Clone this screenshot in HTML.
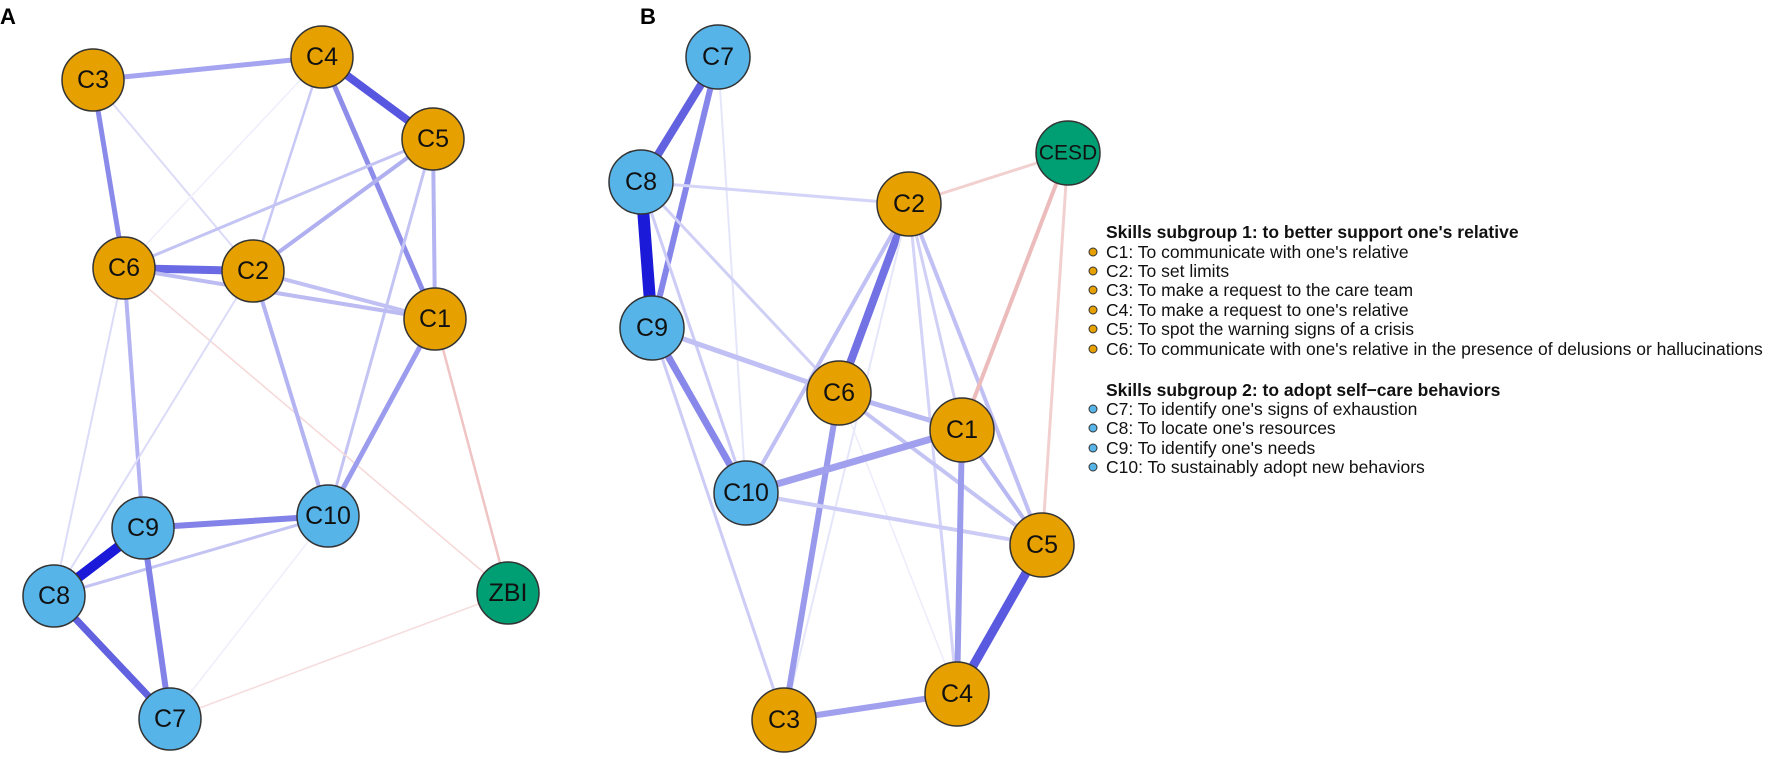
<!DOCTYPE html>
<html><head><meta charset="utf-8"><style>
body{margin:0;background:#fff;}
svg{display:block;}
text{font-family:"Liberation Sans",Arial,sans-serif;}
</style></head><body>
<svg width="1772" height="759" viewBox="0 0 1772 759" xmlns="http://www.w3.org/2000/svg">
<g stroke-linecap="butt" fill="none">
<line x1="93" y1="80" x2="322" y2="57" stroke="#a4a4f0" stroke-width="5"/>
<line x1="322" y1="57" x2="433" y2="139" stroke="#5656e0" stroke-width="8"/>
<line x1="93" y1="80" x2="124" y2="268" stroke="#8a8aea" stroke-width="5"/>
<line x1="93" y1="80" x2="253" y2="271" stroke="#dcdcf8" stroke-width="2"/>
<line x1="322" y1="57" x2="124" y2="268" stroke="#eeeefc" stroke-width="1.5"/>
<line x1="322" y1="57" x2="253" y2="271" stroke="#c8c8f6" stroke-width="2.5"/>
<line x1="322" y1="57" x2="435" y2="319" stroke="#8e8eea" stroke-width="5"/>
<line x1="433" y1="139" x2="124" y2="268" stroke="#c4c4f4" stroke-width="3"/>
<line x1="433" y1="139" x2="253" y2="271" stroke="#b0b0f0" stroke-width="4"/>
<line x1="433" y1="139" x2="435" y2="319" stroke="#b4b4f2" stroke-width="4"/>
<line x1="433" y1="139" x2="328" y2="516" stroke="#c4c4f4" stroke-width="3"/>
<line x1="124" y1="268" x2="253" y2="271" stroke="#6a6ae4" stroke-width="8"/>
<line x1="124" y1="268" x2="435" y2="319" stroke="#bcbcf2" stroke-width="4"/>
<line x1="253" y1="271" x2="435" y2="319" stroke="#c0c0f4" stroke-width="4"/>
<line x1="124" y1="268" x2="143" y2="528" stroke="#b4b4f2" stroke-width="4"/>
<line x1="124" y1="268" x2="54" y2="596" stroke="#dcdcf8" stroke-width="2"/>
<line x1="124" y1="268" x2="508" y2="593" stroke="#f6d8d8" stroke-width="1.5"/>
<line x1="253" y1="271" x2="328" y2="516" stroke="#b4b4f2" stroke-width="4"/>
<line x1="253" y1="271" x2="54" y2="596" stroke="#dcdcf8" stroke-width="2"/>
<line x1="435" y1="319" x2="328" y2="516" stroke="#9c9cee" stroke-width="5"/>
<line x1="435" y1="319" x2="508" y2="593" stroke="#f0c4c4" stroke-width="2.5"/>
<line x1="143" y1="528" x2="328" y2="516" stroke="#8282e8" stroke-width="6"/>
<line x1="54" y1="596" x2="328" y2="516" stroke="#c4c4f4" stroke-width="3"/>
<line x1="143" y1="528" x2="54" y2="596" stroke="#1a1ad8" stroke-width="10"/>
<line x1="143" y1="528" x2="170" y2="719" stroke="#8282e8" stroke-width="6"/>
<line x1="54" y1="596" x2="170" y2="719" stroke="#6262e0" stroke-width="7"/>
<line x1="328" y1="516" x2="170" y2="719" stroke="#eeeefc" stroke-width="1.5"/>
<line x1="170" y1="719" x2="508" y2="593" stroke="#f6dcdc" stroke-width="1.5"/>
<line x1="718" y1="57" x2="641" y2="182" stroke="#6262e0" stroke-width="8"/>
<line x1="718" y1="57" x2="652" y2="328" stroke="#8686ea" stroke-width="6"/>
<line x1="641" y1="182" x2="652" y2="328" stroke="#1a1ad8" stroke-width="12"/>
<line x1="718" y1="57" x2="746" y2="493" stroke="#e6e6fa" stroke-width="2"/>
<line x1="641" y1="182" x2="909" y2="204" stroke="#d4d4f8" stroke-width="3"/>
<line x1="641" y1="182" x2="839" y2="393" stroke="#d0d0f6" stroke-width="3"/>
<line x1="641" y1="182" x2="746" y2="493" stroke="#ccccf6" stroke-width="3"/>
<line x1="652" y1="328" x2="784" y2="720" stroke="#ccccf6" stroke-width="3"/>
<line x1="652" y1="328" x2="839" y2="393" stroke="#c0c0f4" stroke-width="5"/>
<line x1="652" y1="328" x2="746" y2="493" stroke="#8888ea" stroke-width="7"/>
<line x1="909" y1="204" x2="839" y2="393" stroke="#7272e4" stroke-width="8"/>
<line x1="909" y1="204" x2="746" y2="493" stroke="#c0c0f4" stroke-width="4"/>
<line x1="909" y1="204" x2="962" y2="430" stroke="#d0d0f6" stroke-width="3"/>
<line x1="909" y1="204" x2="1042" y2="545" stroke="#c0c0f4" stroke-width="4"/>
<line x1="909" y1="204" x2="957" y2="694" stroke="#d4d4f8" stroke-width="3"/>
<line x1="909" y1="204" x2="784" y2="720" stroke="#e6e6fa" stroke-width="2"/>
<line x1="909" y1="204" x2="1068" y2="153" stroke="#f2d0d0" stroke-width="3"/>
<line x1="1068" y1="153" x2="962" y2="430" stroke="#ecbcbc" stroke-width="4"/>
<line x1="1068" y1="153" x2="1042" y2="545" stroke="#f2d0d0" stroke-width="3"/>
<line x1="839" y1="393" x2="962" y2="430" stroke="#b8b8f2" stroke-width="5"/>
<line x1="839" y1="393" x2="1042" y2="545" stroke="#c4c4f4" stroke-width="4"/>
<line x1="839" y1="393" x2="784" y2="720" stroke="#9a9aec" stroke-width="6"/>
<line x1="839" y1="393" x2="957" y2="694" stroke="#ececfc" stroke-width="1.5"/>
<line x1="746" y1="493" x2="962" y2="430" stroke="#a0a0ee" stroke-width="7"/>
<line x1="746" y1="493" x2="1042" y2="545" stroke="#ccccf6" stroke-width="4"/>
<line x1="962" y1="430" x2="957" y2="694" stroke="#9c9cec" stroke-width="6"/>
<line x1="962" y1="430" x2="1042" y2="545" stroke="#b8b8f2" stroke-width="4"/>
<line x1="1042" y1="545" x2="957" y2="694" stroke="#5a5ae0" stroke-width="9"/>
<line x1="784" y1="720" x2="957" y2="694" stroke="#a0a0ee" stroke-width="6"/>
</g>
<g stroke="#333" stroke-width="1.5">
<circle cx="93" cy="80" r="31" fill="#e6a000"/>
<circle cx="322" cy="57" r="31" fill="#e6a000"/>
<circle cx="433" cy="139" r="31" fill="#e6a000"/>
<circle cx="124" cy="268" r="31" fill="#e6a000"/>
<circle cx="253" cy="271" r="31" fill="#e6a000"/>
<circle cx="435" cy="319" r="31" fill="#e6a000"/>
<circle cx="143" cy="528" r="31" fill="#56b4e9"/>
<circle cx="328" cy="516" r="31" fill="#56b4e9"/>
<circle cx="54" cy="596" r="31" fill="#56b4e9"/>
<circle cx="170" cy="719" r="31" fill="#56b4e9"/>
<circle cx="508" cy="593" r="31" fill="#009e73"/>
<circle cx="718" cy="57" r="32" fill="#56b4e9"/>
<circle cx="641" cy="182" r="32" fill="#56b4e9"/>
<circle cx="652" cy="328" r="32" fill="#56b4e9"/>
<circle cx="746" cy="493" r="32" fill="#56b4e9"/>
<circle cx="909" cy="204" r="32" fill="#e6a000"/>
<circle cx="839" cy="393" r="32" fill="#e6a000"/>
<circle cx="962" cy="430" r="32" fill="#e6a000"/>
<circle cx="1042" cy="545" r="32" fill="#e6a000"/>
<circle cx="957" cy="694" r="32" fill="#e6a000"/>
<circle cx="784" cy="720" r="32" fill="#e6a000"/>
<circle cx="1068" cy="153" r="32" fill="#009e73"/>
</g>
<g font-size="25" text-anchor="middle" fill="#111" dominant-baseline="central">
<text x="93" y="80">C3</text><text x="322" y="57">C4</text><text x="433" y="139">C5</text>
<text x="124" y="268">C6</text><text x="253" y="271">C2</text><text x="435" y="319">C1</text>
<text x="143" y="528">C9</text><text x="328" y="516">C10</text><text x="54" y="596">C8</text>
<text x="170" y="719">C7</text><text x="508" y="593">ZBI</text>
<text x="718" y="57">C7</text><text x="641" y="182">C8</text><text x="652" y="328">C9</text>
<text x="746" y="493">C10</text><text x="909" y="204">C2</text><text x="839" y="393">C6</text>
<text x="962" y="430">C1</text><text x="1042" y="545">C5</text><text x="957" y="694">C4</text>
<text x="784" y="720">C3</text><text x="1068" y="153" font-size="21">CESD</text>
</g>
<text x="0" y="24" font-size="22" font-weight="bold">A</text>
<text x="640" y="24" font-size="22" font-weight="bold">B</text>
<g font-size="17.5" fill="#111">
<text x="1106" y="238" font-weight="bold">Skills subgroup 1: to better support one's relative</text>
<text x="1106" y="258">C1: To communicate with one's relative</text>
<text x="1106" y="277">C2: To set limits</text>
<text x="1106" y="296">C3: To make a request to the care team</text>
<text x="1106" y="316">C4: To make a request to one's relative</text>
<text x="1106" y="335">C5: To spot the warning signs of a crisis</text>
<text x="1106" y="355">C6: To communicate with one's relative in the presence of delusions or hallucinations</text>
<text x="1106" y="396" font-weight="bold">Skills subgroup 2: to adopt self−care behaviors</text>
<text x="1106" y="415">C7: To identify one's signs of exhaustion</text>
<text x="1106" y="434">C8: To locate one's resources</text>
<text x="1106" y="454">C9: To identify one's needs</text>
<text x="1106" y="473">C10: To sustainably adopt new behaviors</text>
</g>
<g stroke="#333" stroke-width="1">
<circle cx="1093" cy="252" r="4" fill="#e6a000"/>
<circle cx="1093" cy="271" r="4" fill="#e6a000"/>
<circle cx="1093" cy="290" r="4" fill="#e6a000"/>
<circle cx="1093" cy="310" r="4" fill="#e6a000"/>
<circle cx="1093" cy="329" r="4" fill="#e6a000"/>
<circle cx="1093" cy="349" r="4" fill="#e6a000"/>
<circle cx="1093" cy="409" r="4" fill="#56b4e9"/>
<circle cx="1093" cy="428" r="4" fill="#56b4e9"/>
<circle cx="1093" cy="448" r="4" fill="#56b4e9"/>
<circle cx="1093" cy="467" r="4" fill="#56b4e9"/>
</g>
</svg>
</body></html>
